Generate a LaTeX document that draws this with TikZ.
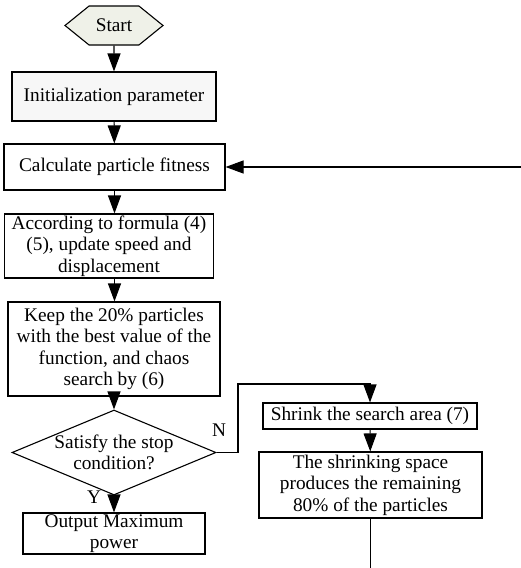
\documentclass[tikz,border=0pt]{standalone}
\usepackage{fontspec}
\setmainfont{Liberation Serif}
\usetikzlibrary{arrows.meta,shapes.geometric,shapes.symbols}
\definecolor{startfill}{HTML}{EFF1E8}
\definecolor{boxfill}{HTML}{F7F7F7}

\begin{document}
\begin{tikzpicture}[>={Triangle[length=18pt,width=13pt]},x=1pt,y=-1pt,line width=1.1pt,
  txt/.style={font=\fontsize{19.3}{21.5}\selectfont,align=center,inner sep=0pt},
  proc/.style={txt,draw,rectangle}]
  \useasboundingbox (0,0) rectangle (521,568);
  \node[txt,draw,fill=startfill,signal,signal to=west and east,signal pointer angle=78,
        minimum width=98pt,minimum height=39pt] (start) at (114,25.5) {Start};
  \node[proc,fill=boxfill,minimum width=204pt,minimum height=49pt] (init) at (114,96.5) {Initialization parameter};
  \node[proc,minimum width=221pt,minimum height=46pt] (calc) at (114.5,167) {Calculate particle fitness};
  \node[proc,minimum width=209pt,minimum height=64pt] (formula) at (109,246) {According to formula (4)\\(5), update speed and\\displacement};
  \node[proc,minimum width=212pt,minimum height=94pt] (keep) at (114,349) {Keep the 20\% particles\\with the best value of the\\function, and chaos\\search by (6)};
  \node[draw,diamond,inner sep=0pt,minimum width=204pt,minimum height=85pt] (cond) at (114,452.5) {};
  \node[txt] (condtext) at (cond) {Satisfy the stop\\condition?};
  \node[proc,minimum width=182pt,minimum height=41pt] (out) at (114,533.5) {Output Maximum\\power};
  \node[proc,minimum width=214pt,minimum height=26pt] (shrink) at (370,416) {Shrink the search area (7)};
  \node[proc,minimum width=223pt,minimum height=66pt] (space) at (370.5,485) {The shrinking space\\produces the remaining\\80\% of the particles};
  \node[txt] (no) at (219,430) {N};
  \node[txt] (yes) at (94,497) {Y};
  \coordinate (turn) at (238,384);
  \coordinate (loopin) at (521,167);
  \coordinate (loopend) at (370.5,568);

  \draw[->] (start) -- (init);
  \draw[->] (init) -- (calc);
  \draw[->] (calc.south) -- (calc.south |- formula.north);
  \draw[->] (formula.south -| calc.south) -- (calc.south |- keep.north);
  \draw[->] (keep.south) -- (cond.north);
  \draw[->] (cond.south) -- (out.north);
  \draw[->] (cond.east) -| (turn) -| (shrink.north);
  \draw[->] (shrink) -- (space);
  \draw (space.south) -- (loopend);
  \draw[->] (loopin) -- (calc.east);
\end{tikzpicture}
\end{document}
